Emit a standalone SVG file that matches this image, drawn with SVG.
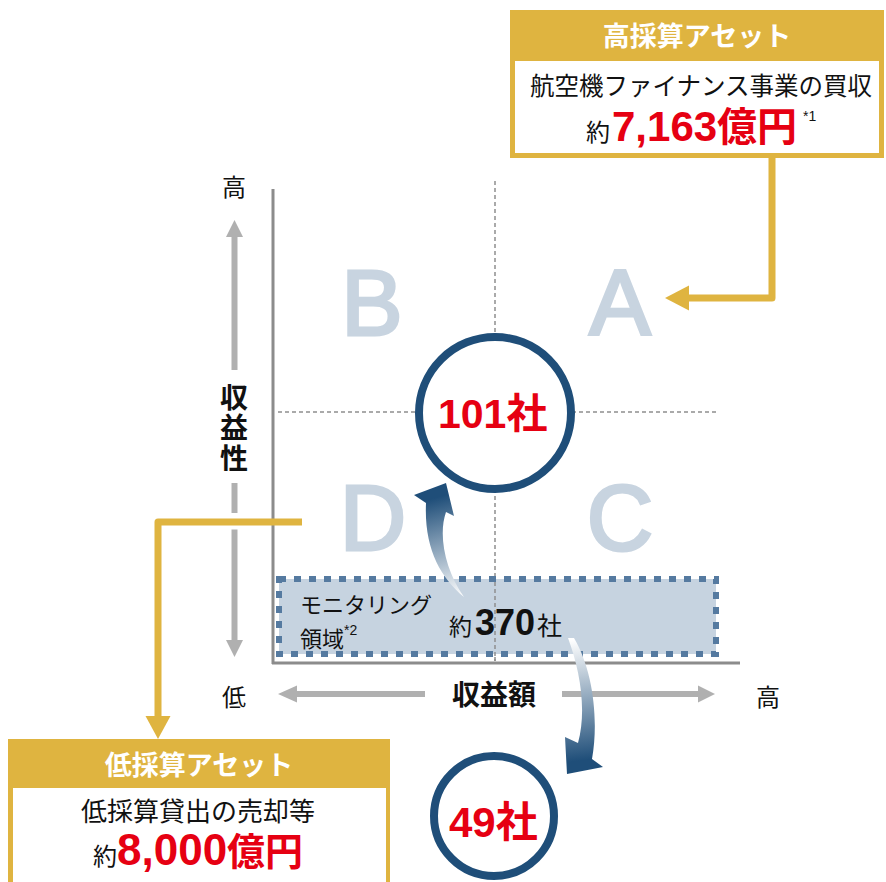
<svg xmlns="http://www.w3.org/2000/svg" width="886" height="882" viewBox="0 0 886 882">
<style>
.jp{font-family:"Liberation Sans","Noto Sans CJK JP",sans-serif;fill:#111111}
.b{font-weight:bold}
.red{fill:#e60012;font-weight:bold}
.hdr{font-family:"Liberation Sans","Noto Sans CJK JP",sans-serif;fill:#ffffff;font-weight:bold;font-size:27px}
.quad{font-family:"Liberation Sans",Arial,sans-serif;fill:#c8d4e0;stroke:#c8d4e0;stroke-width:3;font-size:92px;text-anchor:middle}
.gold{stroke:#dfb440;stroke-width:7;fill:none;stroke-linejoin:round}
.goldf{fill:#dfb440}
.axgray{stroke:#b0b0b0;stroke-width:6;fill:none}
.grayf{fill:#b0b0b0}
.dash{stroke:#8f8f8f;stroke-width:1.5;stroke-dasharray:4 3;fill:none}
.ring{fill:#ffffff;stroke:#1f4e79;stroke-width:8}
</style>
<defs>
<linearGradient id="g1" gradientUnits="userSpaceOnUse" x1="435" y1="498" x2="463" y2="597">
<stop offset="0" stop-color="#1f4e79"/>
<stop offset="1" stop-color="#ffffff"/>
</linearGradient>
<linearGradient id="g2" gradientUnits="userSpaceOnUse" x1="570" y1="640" x2="585" y2="760">
<stop offset="0" stop-color="#ffffff"/>
<stop offset="1" stop-color="#1f4e79"/>
</linearGradient>
</defs>
<rect width="886" height="882" fill="#ffffff"/>

<g id="axes">
<line x1="273" y1="189" x2="273" y2="664" stroke="#8c8c8c" stroke-width="3"/>
<line x1="272" y1="663" x2="740" y2="663" stroke="#8c8c8c" stroke-width="3"/>
<line class="dash" x1="495" y1="181" x2="495" y2="662"/>
<line class="dash" x1="278" y1="412" x2="718" y2="412"/>
</g>

<g id="quadrants">
<text class="quad" x="372" y="335">B</text>
<text class="quad" x="620" y="335">A</text>
<text class="quad" x="373" y="550">D</text>
<text class="quad" x="620" y="550">C</text>
</g>

<g id="monitoring">
<rect x="279" y="579" width="437" height="75" fill="#c6d3e0" stroke="#557aa0" stroke-width="6" stroke-dasharray="7 8"/>
<line class="dash" x1="495" y1="582" x2="495" y2="661"/>
<text class="jp" x="300" y="613" font-size="22">モニタリング</text>
<text class="jp" x="300" y="647" font-size="22">領域<tspan font-size="14" dy="-12">*2</tspan></text>
<text class="jp" x="449" y="635" font-size="23">約<tspan class="b" font-size="36" dx="3">370</tspan><tspan font-size="25" dx="2">社</tspan></text>
</g>

<g id="y-axis">
<polygon class="grayf" points="234.5,220 226,237 243,237"/>
<line class="axgray" x1="234.5" y1="236" x2="234.5" y2="370"/>
<line class="axgray" x1="234.5" y1="483" x2="234.5" y2="513"/>
<line class="axgray" x1="234.5" y1="528" x2="234.5" y2="641"/>
<polygon class="grayf" points="234.5,657 226,640 243,640"/>
<text class="jp" x="234" y="196" font-size="24" text-anchor="middle">高</text>
<text class="jp b" x="234" y="408" font-size="28" text-anchor="middle">収</text>
<text class="jp b" x="234" y="438" font-size="28" text-anchor="middle">益</text>
<text class="jp b" x="234" y="469" font-size="28" text-anchor="middle">性</text>
<text class="jp" x="234" y="706" font-size="24" text-anchor="middle">低</text>
</g>

<g id="x-axis">
<polygon class="grayf" points="278,694 297,685.5 297,702.5"/>
<line class="axgray" x1="296" y1="694" x2="425" y2="694"/>
<line class="axgray" x1="562" y1="694" x2="699" y2="694"/>
<polygon class="grayf" points="715,694 698,685.5 698,702.5"/>
<text class="jp b" x="494" y="705" font-size="28" text-anchor="middle">収益額</text>
<text class="jp" x="768" y="706" font-size="24" text-anchor="middle">高</text>
</g>

<g id="node-101">
<circle class="ring" cx="495" cy="413" r="76"/>
<text x="438" y="428" font-size="41" font-family="Liberation Sans,Noto Sans CJK JP,sans-serif" class="red">101<tspan font-family="Noto Sans CJK JP,sans-serif">社</tspan></text>
</g>

<g id="node-49">
<circle class="ring" cx="494" cy="816" r="60" stroke-width="7"/>
<text x="449" y="837" font-size="42" font-family="Liberation Sans,Noto Sans CJK JP,sans-serif" class="red">49<tspan font-family="Noto Sans CJK JP,sans-serif">社</tspan></text>
</g>

<g id="connectors">
<path d="M446,483 L454,516 L446,512 C438,535 445,570 464,597 C440,577 424,548 426,503 L414,495 Z" fill="url(#g1)"/>
<path d="M568,638 C580,670 587,710 578,743 L565,737 L567,774 L603,767 L592,759 C599,720 593,670 574,638 Z" fill="url(#g2)"/>
<line x1="220" y1="522" x2="250" y2="522" stroke="#ffffff" stroke-width="15"/>
<path class="gold" d="M772,156 L772,298 L687,298"/>
<polygon class="goldf" points="665,298 689,285.5 689,310.5"/>
<path class="gold" d="M302,522 L158,522 L158,719"/>
<polygon class="goldf" points="158,739 145.5,716 170.5,716"/>
</g>

<g id="high-asset">
<rect x="510" y="10" width="374" height="148" fill="#dfb440"/>
<rect x="515" y="61" width="364" height="92" fill="#ffffff"/>
<text class="hdr" x="697" y="46" text-anchor="middle">高採算アセット</text>
<text class="jp" x="701" y="95" font-size="24.5" text-anchor="middle">航空機ファイナンス事業の買収</text>
<text class="jp" x="586" y="141" font-size="24">約<tspan class="red" font-size="42" dx="2">7,163</tspan><tspan class="red" font-size="40">億円</tspan><tspan font-size="14" dx="6" dy="-20">*1</tspan></text>
</g>

<g id="low-asset">
<rect x="8" y="739" width="382" height="150" fill="#dfb440"/>
<rect x="13" y="788" width="373" height="100" fill="#ffffff"/>
<text class="hdr" x="199" y="775" text-anchor="middle">低採算アセット</text>
<text class="jp" x="198" y="821" font-size="26" text-anchor="middle">低採算貸出の売却等</text>
<text class="jp" x="93" y="865" font-size="24">約<tspan class="red" font-size="44">8,000</tspan><tspan class="red" font-size="38">億円</tspan></text>
</g>
</svg>
